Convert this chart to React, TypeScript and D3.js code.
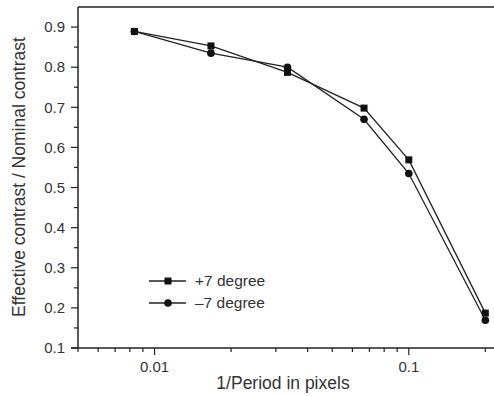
import React, { useEffect, useRef } from "react";
import * as d3 from "d3";

// spatial frequency (1/period in pixels)
const freqs = [1 / 120, 1 / 60, 1 / 30, 1 / 15, 1 / 10, 1 / 5];
const plusSeven = [0.889, 0.853, 0.787, 0.698, 0.569, 0.187];
const minusSeven = [0.889, 0.835, 0.8, 0.67, 0.535, 0.169];
const yTicks = [0.1, 0.2, 0.3, 0.4, 0.5, 0.6, 0.7, 0.8, 0.9];
const xMajor = [0.01, 0.1];
const seriesNames = ["+7 degree", "\u20137 degree"];

export default function App() {
	const svgRef = useRef(null);

	useEffect(() => {
		const W = 494,
			H = 396;
		const left = 78,
			top = 7,
			bottom = 348;
		const ink = "#222";
		const font = "Liberation Sans, Arial, sans-serif";

		const svg = d3.select(svgRef.current);
		svg.selectAll("*").remove();

		const x = d3.scaleLog().domain([0.005, 0.2163]).range([left, W]);
		const y = d3.scaleLinear().domain([0.1, 0.95]).range([bottom, top]);

		// frame: left axis + top border
		svg.append("line")
			.attr("x1", left).attr("x2", left)
			.attr("y1", top).attr("y2", bottom)
			.attr("stroke", ink).attr("stroke-width", 1.5);
		svg.append("line")
			.attr("x1", left).attr("x2", W)
			.attr("y1", top).attr("y2", top)
			.attr("stroke", ink).attr("stroke-width", 1.5);
		svg.append("line")
			.attr("x1", left - 7).attr("x2", W)
			.attr("y1", bottom).attr("y2", bottom)
			.attr("stroke", ink).attr("stroke-width", 1.5);

		// y ticks (major + half steps)
		const yMinor = d3.range(0.15, 0.95, 0.1);
		svg.append("g")
			.selectAll("line.maj")
			.data(yTicks)
			.join("line")
			.attr("x1", left - 7).attr("x2", left)
			.attr("y1", (d) => y(d)).attr("y2", (d) => y(d))
			.attr("stroke", ink).attr("stroke-width", 1.2);
		svg.append("g")
			.selectAll("line")
			.data(yMinor)
			.join("line")
			.attr("x1", left - 4).attr("x2", left)
			.attr("y1", (d) => y(d)).attr("y2", (d) => y(d))
			.attr("stroke", ink).attr("stroke-width", 1.2);
		svg.append("g")
			.selectAll("text")
			.data(yTicks)
			.join("text")
			.attr("x", left - 13)
			.attr("y", (d) => y(d))
			.attr("dy", "0.35em")
			.attr("text-anchor", "end")
			.attr("font-family", font)
			.attr("font-size", 15)
			.attr("fill", "#333")
			.text((d) => d3.format(".1f")(d));

		// x ticks (log, all minors)
		const xMinor = [];
		[0.001, 0.01, 0.1].forEach((b) => {
			for (let k = 2; k <= 9; k++) {
				const v = b * k;
				if (v >= 0.005 && v <= 0.216) xMinor.push(v);
			}
		});
		svg.append("g")
			.selectAll("line")
			.data(xMinor)
			.join("line")
			.attr("x1", (d) => x(d)).attr("x2", (d) => x(d))
			.attr("y1", bottom).attr("y2", bottom + 4)
			.attr("stroke", ink).attr("stroke-width", 1.2);
		svg.append("g")
			.selectAll("line")
			.data(xMajor)
			.join("line")
			.attr("x1", (d) => x(d)).attr("x2", (d) => x(d))
			.attr("y1", bottom).attr("y2", bottom + 7)
			.attr("stroke", ink).attr("stroke-width", 1.2);
		svg.append("g")
			.selectAll("text")
			.data(xMajor)
			.join("text")
			.attr("x", (d) => x(d))
			.attr("y", 372)
			.attr("text-anchor", "middle")
			.attr("font-family", font)
			.attr("font-size", 15)
			.attr("fill", "#333")
			.text((d) => String(d));

		// axis titles
		svg.append("text")
			.attr("x", 283)
			.attr("y", 389)
			.attr("text-anchor", "middle")
			.attr("font-family", font)
			.attr("font-size", 17.5)
			.attr("fill", "#333")
			.text("1/Period in pixels");
		svg.append("text")
			.attr("transform", "rotate(-90)")
			.attr("x", -177)
			.attr("y", 25)
			.attr("text-anchor", "middle")
			.attr("font-family", font)
			.attr("font-size", 17.5)
			.attr("fill", "#333")
			.text("Effective contrast / Nominal contrast");

		// lines + markers
		const line = d3
			.line()
			.x((d) => x(d[0]))
			.y((d) => y(d[1]));
		const series = [plusSeven, minusSeven];
		series.forEach((vals, si) => {
			const pts = freqs.map((f, i) => [f, vals[i]]);
			svg.append("path")
				.datum(pts)
				.attr("fill", "none")
				.attr("stroke", ink)
				.attr("stroke-width", 1.3)
				.attr("d", line);
			const g = svg.append("g");
			if (si === 0) {
				g.selectAll("rect")
					.data(pts)
					.join("rect")
					.attr("x", (d) => x(d[0]) - 3.5)
					.attr("y", (d) => y(d[1]) - 3.5)
					.attr("width", 7)
					.attr("height", 7)
					.attr("fill", "#111");
			} else {
				g.selectAll("circle")
					.data(pts)
					.join("circle")
					.attr("cx", (d) => x(d[0]))
					.attr("cy", (d) => y(d[1]))
					.attr("r", 3.8)
					.attr("fill", "#111");
			}
		});

		// legend
		const legY = [281, 303];
		seriesNames.forEach((name, i) => {
			const ly = legY[i];
			svg.append("line")
				.attr("x1", 149).attr("x2", 186)
				.attr("y1", ly).attr("y2", ly)
				.attr("stroke", ink).attr("stroke-width", 1.3);
			if (i === 0) {
				svg.append("rect")
					.attr("x", 164.5).attr("y", ly - 3.5)
					.attr("width", 7).attr("height", 7)
					.attr("fill", "#111");
			} else {
				svg.append("circle")
					.attr("cx", 168).attr("cy", ly).attr("r", 3.8)
					.attr("fill", "#111");
			}
			svg.append("text")
				.attr("x", 195)
				.attr("y", ly)
				.attr("dy", "0.35em")
				.attr("font-family", font)
				.attr("font-size", 15.5)
				.attr("fill", "#333")
				.text(name);
		});

		return () => {
			d3.select(svgRef.current).selectAll("*").remove();
		};
	}, []);

	return (
		<svg
			ref={svgRef}
			width={494}
			height={396}
			style={{ position: "absolute", left: 0, top: 0, background: "#fff" }}
		></svg>
	);
}
